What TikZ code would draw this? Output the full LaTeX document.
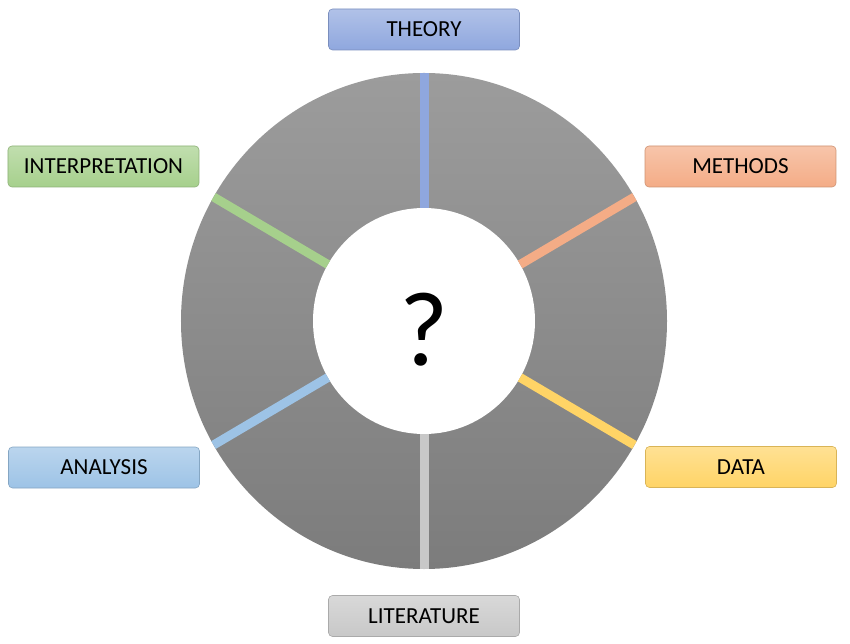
\documentclass[tikz,border=0pt]{standalone}
\usepackage{fontspec}
\setmainfont{Carlito}

\definecolor{ringTop}{HTML}{9C9C9C}
\definecolor{ringBot}{HTML}{7C7C7C}
\definecolor{theoryC}{HTML}{8FA7DE}
\definecolor{methodsC}{HTML}{F4AC86}
\definecolor{dataC}{HTML}{FFD466}
\definecolor{litC}{HTML}{C8C8C8}
\definecolor{analysisC}{HTML}{9DC3E6}
\definecolor{interpC}{HTML}{A6D08C}

\tikzset{
  lbl/.style={rounded corners=4pt, minimum width=191pt, minimum height=41pt,
    draw=#1!85!black, top color=#1!70, bottom color=#1, line width=.6pt,
    font=\fontsize{23}{27}\selectfont, text=black, inner sep=0pt},
  spoke/.style={line width=9pt, #1}
}

\begin{document}
\begin{tikzpicture}[x=1pt,y=1pt]
  \useasboundingbox (-424,-323) rectangle (426,321);
  %% the ring
  \shade[top color=ringTop, bottom color=ringBot] (0,0) ellipse (243pt and 248pt);
  \fill[white] (0,0) ellipse (111pt and 113pt);%
  \foreach \ang/\col in {90/theoryC, 30/methodsC, -30/dataC, -90/litC,
    210/analysisC, 150/interpC}
  \draw[spoke=\col] (\ang:111pt and 113pt) -- (\ang:243pt and 248pt);%

  \node (quest) at (0,-9) {\fontsize{106}{110}\selectfont ?};

  %% labels
  \node[lbl=theoryC] (theory) at (0,291.5) {THEORY};
  \node[lbl=methodsC] (methods) at (316.5,154.5) {METHODS};
  \node[lbl=dataC] (data) at (317,-146) {DATA};
  \node[lbl=litC] (lit) at (0,-295) {LITERATURE};
  \node[lbl=analysisC] (analysis) at (-320,-146.5) {ANALYSIS};
  \node[lbl=interpC] (interp) at (-320.5,154.5) {INTERPRETATION};
\end{tikzpicture}
\end{document}
